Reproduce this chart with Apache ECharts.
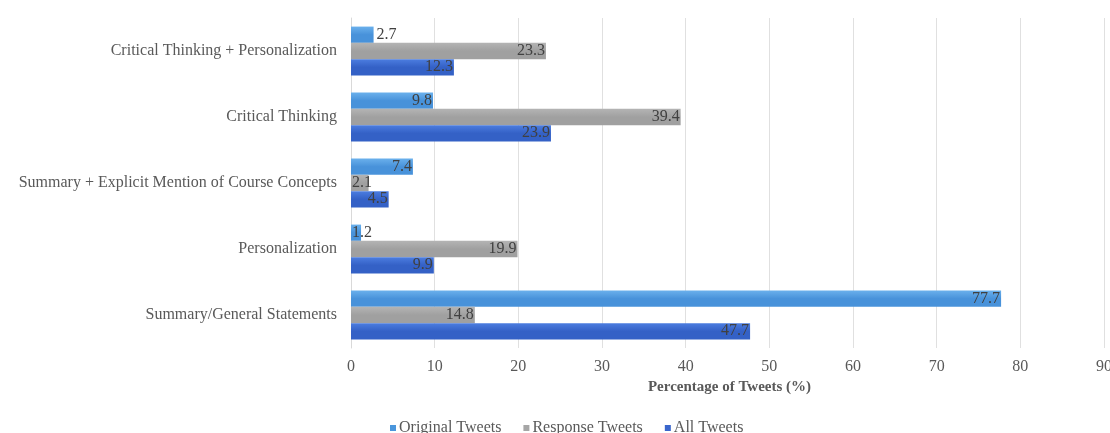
<!DOCTYPE html>
<html><head><meta charset="utf-8">
<script src="https://cdn.jsdelivr.net/npm/echarts@6/dist/echarts.min.js"></script>
<style>html,body{margin:0;padding:0;background:#fff}#c{width:1110px;height:433px}</style>
</head><body><div id="c"></div>
<script>
var categories = ['Critical Thinking + Personalization','Critical Thinking','Summary + Explicit Mention of Course Concepts','Personalization','Summary/General Statements'];
var seriesNames = ['Original Tweets','Response Tweets','All Tweets'];
var originalTweets = [2.7, 9.8, 7.4, 1.2, 77.7];
var responseTweets = [23.3, 39.4, 2.1, 19.9, 14.8];
var allTweets = [12.3, 23.9, 4.5, 9.9, 47.7];
var xTicks = [0,10,20,30,40,50,60,70,80,90];

var FONT = '"Liberation Serif", "DejaVu Serif", serif';
function grad(top, bottom){
  return new echarts.graphic.LinearGradient(0,0,0,1,[{offset:0,color:top},{offset:0.5,color:bottom},{offset:1,color:bottom}]);
}
var colors = [grad('#6ab0ec','#4892da'), grad('#b4b4b4','#a0a0a0'), grad('#4c7de0','#3461c6')];
var legendColors = ['#4a96dc','#a6a6a6','#3a66cc'];
function items(arr){
  return arr.map(function(v){
    var pos = 'insideRight';
    if (v < 2.5) pos = 'insideLeft';
    else if (v < 3) pos = 'right';
    return {value: v, label: {position: pos, distance: pos==='right'?3:1}};
  });
}
var data = [originalTweets, responseTweets, allTweets];
var series = seriesNames.map(function(n,i){
  return {
    name: n, type: 'bar', data: items(data[i]),
    barGap: '0%', barCategoryGap: '26%',
    itemStyle: {color: colors[i]},
    label: {show: true, color: '#404040', fontFamily: FONT, fontSize: 16, formatter: function(p){return p.value.toFixed(1);}}
  };
});
var chart = echarts.init(document.getElementById('c'));
chart.setOption({
  animation: false,
  color: legendColors,
  grid: {left: 351, right: 6, top: 18, bottom: 85, containLabel: false, outerBoundsMode: 'none'},
  legend: {
    data: seriesNames.map(function(n,i){return {name:n, itemStyle:{color:legendColors[i]}};}),
    left: 385, top: 415, itemWidth: 6, itemHeight: 6, itemGap: 22,
    icon: 'rect',
    textStyle: {fontFamily: FONT, fontSize: 16, color: '#595959', padding:[0,0,0,-2]}
  },
  xAxis: {
    type: 'value', min: 0, max: 90, interval: 10,
    name: 'Percentage of Tweets (%)', nameLocation: 'middle', nameGap: 29,
    nameTextStyle: {fontFamily: FONT, fontSize: 15, fontWeight: 'bold', color: '#595959', padding:[0,0,0,4]},
    axisLine: {show: false}, axisTick: {show: false},
    axisLabel: {fontFamily: FONT, fontSize: 16, color: '#595959', margin: 11,
      formatter: function(v){ return xTicks.indexOf(v) >= 0 ? String(v) : ''; }},
    splitLine: {lineStyle: {color: '#e0e0e0'}}
  },
  yAxis: {
    type: 'category', data: categories, inverse: true,
    axisLine: {lineStyle: {color: '#d9d9d9'}}, axisTick: {show: false},
    axisLabel: {fontFamily: FONT, fontSize: 16, color: '#595959', margin: 14}
  },
  series: series
});
</script></body></html>
